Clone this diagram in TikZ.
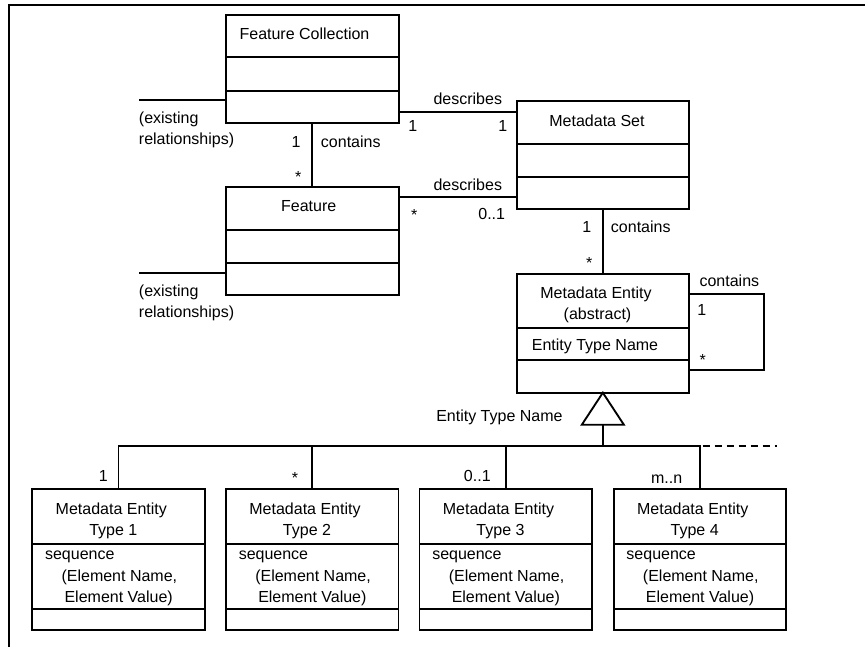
\documentclass[tikz,border=0pt]{standalone}
\usepackage{fontspec}
\setmainfont{Liberation Sans}
\usetikzlibrary{fit}

\tikzset{
  classbox/.style={draw, line width=1.4pt, inner sep=0pt, outer sep=0pt},
  link/.style={line width=1.4pt},
  txt/.style={inner sep=0pt, font=\fontsize{12}{15.6}\selectfont},
}

\begin{document}
\begin{tikzpicture}[x=0.75pt, y=-0.75pt]
  \useasboundingbox (0,0) rectangle (865,647);
  \draw[line width=1.5pt] (9,647) -- (9,5) -- (865,5);

  % classes
  \node[classbox, fit={(225.7,15) (398.7,122.7)}] (fc) {};
  \node[classbox, fit={(225.7,187.3) (398.7,295.3)}] (feat) {};
  \node[classbox, fit={(517,101) (688.7,209)}] (ms) {};
  \node[classbox, fit={(517,274) (688.7,392.7)}] (me) {};
  \foreach \cls/\ya/\yb in {fc/57.3/90.7, feat/230/262.7, ms/144.3/176.7, me/328.3/360} {
    \draw[link] (\cls.west |- 0,\ya) -- (\cls.east |- 0,\ya);
    \draw[link] (\cls.west |- 0,\yb) -- (\cls.east |- 0,\yb);
  }

  \node[txt, anchor=base] (fc-name) at (304.5,39) {Feature Collection};
  \node[txt, anchor=base] (feat-name) at (308.7,211.7) {Feature};
  \node[txt, anchor=base] (ms-name) at (597,126) {Metadata Set};
  \node[txt, anchor=base] (me-name) at (596,298.3) {Metadata Entity};
  \node[txt, anchor=base] (me-abs) at (597.5,319) {(abstract)};
  \node[txt, anchor=base] (me-attr) at (595,350.7) {Entity Type Name};

  % existing relationships
  \foreach \e/\cls/\y in {1/fc/100, 2/feat/273.3} {
    \coordinate (ex\e) at (138.7,\y);
    \draw[link] (\cls.west |- ex\e) -- (ex\e);
    \node[txt, anchor=base west] (ex\e-a) at (138.7,\y+23) {(existing};
    \node[txt, anchor=base west] (ex\e-b) at (138.7,\y+44.5) {relationships)};
  }

  % associations
  \draw[link] (fc.south) -- (feat.north);
  \node[txt, anchor=base] (fc-one) at (296,147) {1};
  \node[txt, anchor=base west] (fc-cont) at (320.7,147) {contains};
  \node[txt, anchor=base] (feat-star) at (298.3,182.5) {*};

  \draw[link] (fc.east |- 0,111.7) -- (ms.west |- 0,111.7);
  \node[txt, anchor=base west] (desc1) at (433.3,104) {describes};
  \node[txt, anchor=base] (desc1-a) at (412.7,131.7) {1};
  \node[txt, anchor=base] (desc1-b) at (502.7,131.7) {1};

  \draw[link] (feat.east |- 0,196.7) -- (ms.west |- 0,196.7);
  \node[txt, anchor=base west] (desc2) at (433.3,190) {describes};
  \node[txt, anchor=base] (desc2-a) at (414.3,220.3) {*};
  \node[txt, anchor=base] (desc2-b) at (491.7,219) {0..1};

  \draw[link] (ms.south) -- (me.north);
  \node[txt, anchor=base] (ms-one) at (586.7,232.7) {1};
  \node[txt, anchor=base west] (ms-cont) at (610.7,232.7) {contains};
  \node[txt, anchor=base] (me-star) at (589.3,268.6) {*};

  \coordinate (loop) at (764,370);
  \draw[link] (me.east |- 0,294.3) -| (loop) -- (me.east |- loop);
  \node[txt, anchor=base west] (loop-cont) at (699.3,286) {contains};
  \node[txt, anchor=base] (loop-one) at (701.7,315.7) {1};
  \node[txt, anchor=base] (loop-star) at (702.7,365.3) {*};

  % generalization
  \coordinate (bus) at (602.85,446);
  \coordinate (gen) at (602.85,425);
  \draw[link] (me.south) -- ++(-21,32) -- ++(42,0) -- cycle;
  \draw[link] (gen) -- (bus);
  \node[txt, anchor=base west] (gen-name) at (436,421.7) {Entity Type Name};

  \foreach \i/\xl in {1/32.3, 2/226, 3/419.5, 4/613.7} {
    \node[classbox, fit={(\xl,489.3) (\xl+172.5,630)}] (t\i) {};
    \draw[link] (t\i.west |- 0,544) -- (t\i.east |- 0,544);
    \draw[link] (t\i.west |- 0,609) -- (t\i.east |- 0,609);
    \node[txt, anchor=base] (t\i-name) at (\xl+79,514.3) {Metadata Entity};
    \node[txt, anchor=base] (t\i-type) at (\xl+81,535) {Type \i};
    \node[txt, anchor=base west] (t\i-seq) at (\xl+12.5,559.5) {sequence};
    \node[txt, anchor=base west] (t\i-en) at (\xl+29,581.5) {(Element Name,};
    \node[txt, anchor=base west] (t\i-ev) at (\xl+32,602.5) {Element Value)};
  }
  \draw[link] (t1.north) |- (bus) -| (t4.north);
  \draw[link] (t2.north) -- (t2.north |- bus);
  \draw[link] (t3.north) -- (t3.north |- bus);
  \draw[line width=1pt, dash pattern=on 5.25pt off 3.75pt] ([xshift=2pt]t4.north |- bus) -- ++(74,0);

  \node[txt, anchor=base] (t1-mult) at (103.3,481.7) {1};
  \node[txt, anchor=base] (t2-mult) at (295,483.3) {*};
  \node[txt, anchor=base] (t3-mult) at (477.3,481.7) {0..1};
  \node[txt, anchor=base] (t4-mult) at (666.7,483.3) {m..n};
\end{tikzpicture}
\end{document}
